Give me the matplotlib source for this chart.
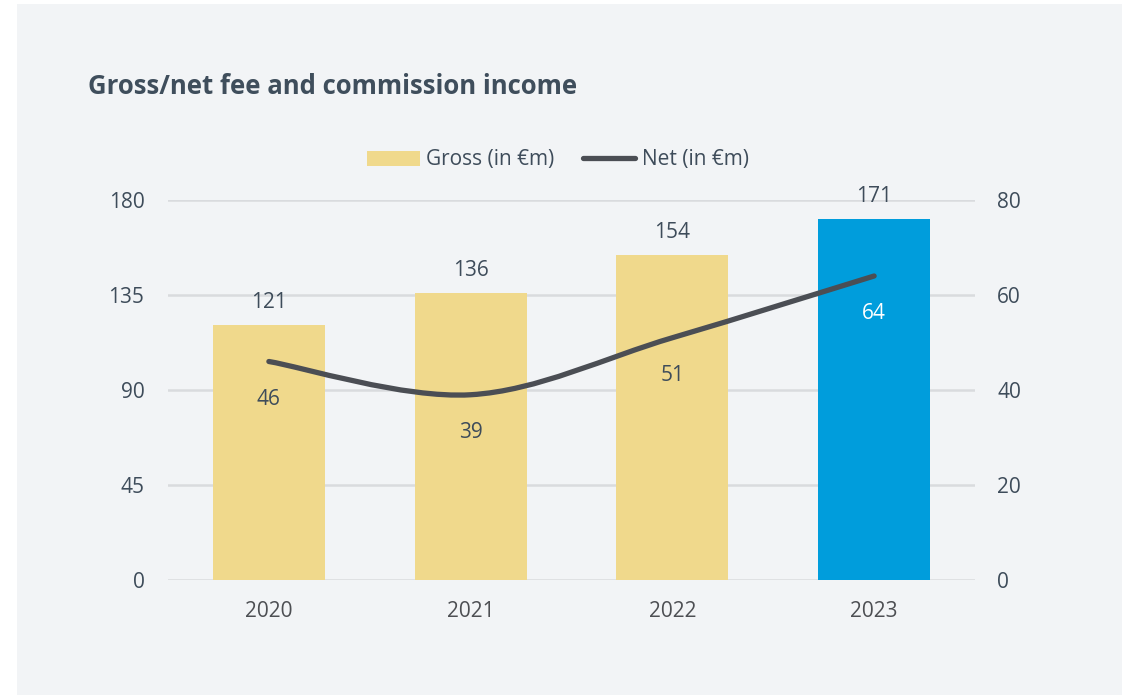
import matplotlib

matplotlib.use("Agg")
import matplotlib.pyplot as plt
from matplotlib.patches import Rectangle, Patch, PathPatch
from matplotlib.lines import Line2D
from matplotlib.path import Path
import numpy as np

# ---------------------------------------------------------------------------
# Data
# ---------------------------------------------------------------------------
years = ["2020", "2021", "2022", "2023"]
gross = [121, 136, 154, 171]
net = [46, 39, 51, 64]
left_ticks = [0, 45, 90, 135, 180]
right_ticks = [0, 20, 40, 60, 80]

# ---------------------------------------------------------------------------
# Style
# ---------------------------------------------------------------------------
C_BG = "#f2f4f6"
C_GOLD = "#f0d98c"
C_BLUE = "#009ddc"
C_LINE = "#4b4e54"
C_GRID = "#d9dbde"
C_TEXT = "#3e4c5a"
C_YEAR = "#4d4f53"
FS = 15

plt.rcParams["font.family"] = ["Open Sans", "DejaVu Sans"]

W, H = 1132, 695
fig = plt.figure(figsize=(W / 100, H / 100), dpi=100)
fig.patch.set_facecolor("white")
fig.patches.append(Rectangle((17 / W, 0), (1122 - 17) / W, (H - 4) / H,
                             transform=fig.transFigure, facecolor=C_BG,
                             edgecolor="none", zorder=-10))

ax = fig.add_axes([168 / W, 1 - 580 / H, (975 - 168) / W, 380 / H])
ax.set_facecolor("none")
ax2 = ax.twinx()

x = np.arange(len(years))
bar_colors = [C_GOLD] * (len(years) - 1) + [C_BLUE]
ax.bar(x, gross, width=0.555, color=bar_colors, zorder=3)

ax.set_xlim(-0.5, len(years) - 0.5)
ax.set_ylim(0, 180)
ax.set_yticks(left_ticks)
ax.set_xticks(x)
ax.set_xticklabels(years)
ax.grid(axis="y", color=C_GRID, linewidth=1.8, zorder=0)
ax.set_axisbelow(True)
ax.tick_params(axis="y", length=0, pad=17, labelsize=FS, labelcolor=C_TEXT)
ax.tick_params(axis="x", length=0, pad=15, labelsize=FS, labelcolor=C_YEAR)
for s in ax.spines.values():
    s.set_visible(False)

ax2.set_ylim(0, 80)
ax2.set_yticks(right_ticks)
ax2.tick_params(axis="y", length=0, pad=16, labelsize=FS, labelcolor=C_TEXT)
for s in ax2.spines.values():
    s.set_visible(False)

# smooth net curve (Catmull-Rom as cubic Bezier segments)
pts = np.column_stack([x, net]).astype(float)
ext = np.vstack([pts[0], pts, pts[-1]])
verts = [tuple(pts[0])]
codes = [Path.MOVETO]
for i in range(len(pts) - 1):
    p0, p1, p2, p3 = ext[i], ext[i + 1], ext[i + 2], ext[i + 3]
    c1 = p1 + (p2 - p0) / 6
    c2 = p2 - (p3 - p1) / 6
    verts += [tuple(c1), tuple(c2), tuple(p2)]
    codes += [Path.CURVE4] * 3
ax2.add_patch(PathPatch(Path(verts, codes), facecolor="none", edgecolor=C_LINE,
                        linewidth=3.8, capstyle="round", zorder=4))

# value labels
for xi, g in zip(x, gross):
    ax.annotate(f"{g}", (xi, g), xytext=(0, 12), textcoords="offset points",
                ha="center", va="baseline", fontsize=FS, color=C_TEXT)
for xi, n in zip(x, net):
    col = "white" if xi == len(years) - 1 else C_TEXT
    ax2.annotate(f"{n}", (xi, n), xytext=(0, -31), textcoords="offset points",
                 ha="center", va="baseline", fontsize=FS, color=col, zorder=6)

# title
fig.text(88 / W, 1 - 94 / H, "Gross/net fee and commission income",
         fontsize=18.5, fontweight="bold", color="#3f4e5c", va="baseline")

# legend
handles = [
    Patch(facecolor=C_GOLD, edgecolor="none", label="Gross (in €m)"),
    Line2D([0], [0], color=C_LINE, linewidth=3.8, solid_capstyle="round",
           label="Net (in €m)"),
]
fig.legend(handles=handles, loc="center", bbox_to_anchor=(558 / W, 1 - 160 / H),
           ncol=2, frameon=False, fontsize=FS, handlelength=2.5,
           handletextpad=0.3, columnspacing=1.4, labelcolor=C_TEXT)

fig.savefig("out.png", dpi=100, facecolor=fig.get_facecolor())
